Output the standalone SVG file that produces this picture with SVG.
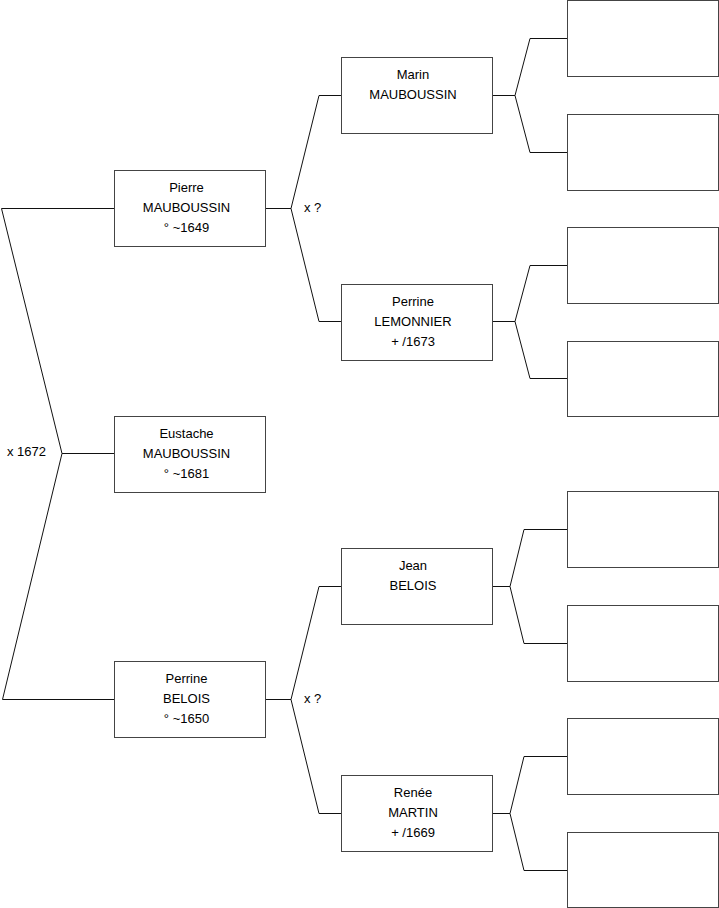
<svg xmlns="http://www.w3.org/2000/svg" width="719" height="908" viewBox="0 0 719 908">
<style>
.box{fill:#fff;stroke:#444;stroke-width:1}
.c{fill:none;stroke:#111;stroke-width:1}
text{font-family:"Liberation Sans",Arial,sans-serif;font-size:13px;fill:#000}
.m{text-anchor:middle}
</style>
<rect width="719" height="908" fill="#fff"/>
<g id="connectors">
<path class="c" d="M114,208.5H1.5L62,453.5H114M62,453.5L2.5,699.5H114"/>
<path class="c" d="M265,208.5H291L319,95.5H341M291,208.5L319,321.5H341"/>
<path class="c" d="M265,699.5H291L319,586.5H341M291,699.5L319,813.5H341"/>
<path class="c" d="M492,95.5H515L530,38.5H567M515,95.5L530,152.5H567"/>
<path class="c" d="M492,321.5H515L530,265.5H567M515,321.5L530,378.5H567"/>
<path class="c" d="M492,586.5H510L524,529.5H567M510,586.5L524,643.5H567"/>
<path class="c" d="M492,813.5H510L524,756.5H567M510,813.5L524,870.5H567"/>
<text x="7" y="456">x 1672</text>
<text x="304" y="212">x ?</text>
<text x="304" y="703">x ?</text>
</g>
<g id="pierre"><rect class="box" x="114.5" y="170.5" width="151" height="76"/>
<text class="m" x="186.5" y="191.5">Pierre</text><text class="m" x="186.5" y="211.5">MAUBOUSSIN</text><text class="m" x="186.5" y="231.5">° ~1649</text></g>
<g id="eustache"><rect class="box" x="114.5" y="416.5" width="151" height="76"/>
<text class="m" x="186.5" y="437.5">Eustache</text><text class="m" x="186.5" y="457.5">MAUBOUSSIN</text><text class="m" x="186.5" y="477.5">° ~1681</text></g>
<g id="perrine-belois"><rect class="box" x="114.5" y="661.5" width="151" height="76"/>
<text class="m" x="186.5" y="682.5">Perrine</text><text class="m" x="186.5" y="702.5">BELOIS</text><text class="m" x="186.5" y="722.5">° ~1650</text></g>
<g id="marin"><rect class="box" x="341.5" y="57.5" width="151" height="76"/>
<text class="m" x="413" y="78.5">Marin</text><text class="m" x="413" y="98.5">MAUBOUSSIN</text></g>
<g id="perrine-lemonnier"><rect class="box" x="341.5" y="284.5" width="151" height="76"/>
<text class="m" x="413" y="305.5">Perrine</text><text class="m" x="413" y="325.5">LEMONNIER</text><text class="m" x="413" y="345.5">+ /1673</text></g>
<g id="jean"><rect class="box" x="341.5" y="548.5" width="151" height="76"/>
<text class="m" x="413" y="569.5">Jean</text><text class="m" x="413" y="589.5">BELOIS</text></g>
<g id="renee"><rect class="box" x="341.5" y="775.5" width="151" height="76"/>
<text class="m" x="413" y="796.5">Renée</text><text class="m" x="413" y="816.5">MARTIN</text><text class="m" x="413" y="836.5">+ /1669</text></g>
<g id="g3-1"><rect class="box" x="567.5" y="0.5" width="151" height="76"/></g>
<g id="g3-2"><rect class="box" x="567.5" y="114.5" width="151" height="76"/></g>
<g id="g3-3"><rect class="box" x="567.5" y="227.5" width="151" height="76"/></g>
<g id="g3-4"><rect class="box" x="567.5" y="341.5" width="151" height="75"/></g>
<g id="g3-5"><rect class="box" x="567.5" y="491.5" width="151" height="76"/></g>
<g id="g3-6"><rect class="box" x="567.5" y="605.5" width="151" height="76"/></g>
<g id="g3-7"><rect class="box" x="567.5" y="718.5" width="151" height="76"/></g>
<g id="g3-8"><rect class="box" x="567.5" y="832.5" width="151" height="75"/></g>
</svg>
